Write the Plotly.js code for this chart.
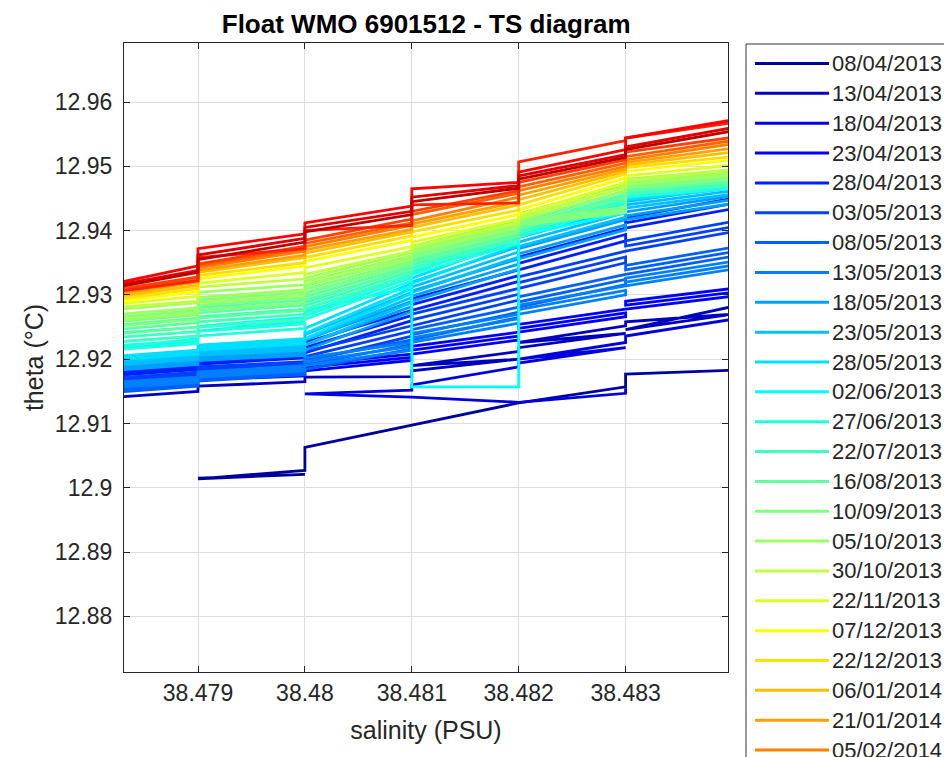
<!DOCTYPE html>
<html>
<head>
<meta charset="utf-8">
<script src="https://cdn.plot.ly/plotly-3.0.1.min.js"></script>
<style>html,body{margin:0;padding:0;background:#fff;}#chart{width:944px;height:757px;}</style>
</head>
<body>
<div id="chart"></div>
<script>
// ---- data ----
const profileDates = ["08/04/2013","13/04/2013","18/04/2013","23/04/2013","28/04/2013","03/05/2013","08/05/2013","13/05/2013","18/05/2013","23/05/2013","28/05/2013","02/06/2013","27/06/2013","22/07/2013","16/08/2013","10/09/2013","05/10/2013","30/10/2013","22/11/2013","07/12/2013","22/12/2013","06/01/2014","21/01/2014","05/02/2014","20/02/2014","07/03/2014","22/03/2014","06/04/2014","21/04/2014","06/05/2014"];

// salinity sequences (PSU) of the profiles, resolution 0.001
const salStd  = [38.478,38.479,38.479,38.480,38.480,38.481,38.481,38.482,38.482,38.483,38.483,38.484];
const salSerp = [38.478,38.479,38.479,38.478,38.478,38.479,
                 38.479,38.480,38.480,38.479,38.479,38.480,
                 38.480,38.481,38.481,38.480,38.480,38.481,
                 38.481,38.482,38.482,38.481,38.481,38.482,
                 38.482,38.483,38.483,38.482,38.482,38.483,
                 38.483,38.484,38.484,38.483,38.483,38.484];

const salinity = [
  [38.479,38.480,38.479,38.480,38.480,38.482,38.483,38.483,38.484],
  [38.478,38.479,38.479,38.480,38.480,38.481,38.481,38.482,38.481,38.482,38.482,38.483,38.482,38.483,38.483,38.484,38.483,38.484],
  [38.484,38.483,38.483,38.482,38.483,38.482,38.482,38.481,38.481,38.480,38.481,38.482,38.483,38.483],
  salSerp, salSerp, salSerp, salSerp, salSerp, salSerp, salSerp, salSerp,
  [38.478,38.479,38.478,38.479, 38.479,38.480,38.479,38.480, 38.480,38.481, 38.481,38.481, 38.482,38.482, 38.483,38.482,38.483, 38.483,38.484],
  salSerp, salSerp, salSerp, salSerp, salSerp,
  salStd, salStd, salStd, salStd, salStd, salStd, salStd, salStd, salStd, salStd, salStd, salStd, salStd
];

// potential temperature (deg C) along each profile
const theta = [
  [12.9015,12.9021,12.9014,12.9027,12.9063,12.9132,12.9157,12.9177,12.9183],
  [12.9138,12.9150,12.9158,12.9165,12.9172,12.9173,12.9182,12.9200,12.9190,12.9212,12.9218,12.9240,12.9226,12.9252,12.9258,12.9270,12.9246,12.9282],
  [12.9262,12.9236,12.9226,12.9200,12.9218,12.9194,12.9188,12.9160,12.9152,12.9146,12.9141,12.9133,12.9147,12.9155],
  [12.9150,12.9160,12.9164,12.9154,12.9158,12.9168, 12.9168,12.9174,12.9178,12.9172,12.9176,12.9182, 12.9182,12.9198,12.9203,12.9187,12.9192,12.9208, 12.9208,12.9230,12.9236,12.9214,12.9220,12.9242, 12.9242,12.9266,12.9272,12.9248,12.9254,12.9278, 12.9278,12.9298,12.9304,12.9284,12.9290,12.9310],
  [12.9172,12.9184,12.9188,12.9176,12.9180,12.9192, 12.9192,12.9202,12.9206,12.9196,12.9200,12.9210, 12.9210,12.9260,12.9268,12.9218,12.9226,12.9276, 12.9276,12.9321,12.9330,12.9285,12.9294,12.9339, 12.9339,12.9384,12.9394,12.9349,12.9359,12.9404, 12.9404,12.9434,12.9442,12.9412,12.9420,12.9450],
  [12.9160,12.9172,12.9176,12.9164,12.9168,12.9180, 12.9180,12.9188,12.9192,12.9184,12.9188,12.9196, 12.9196,12.9236,12.9244,12.9204,12.9212,12.9252, 12.9252,12.9292,12.9301,12.9261,12.9270,12.9310, 12.9310,12.9350,12.9359,12.9319,12.9328,12.9368, 12.9368,12.9398,12.9406,12.9376,12.9384,12.9414],
  [12.9146,12.9158,12.9162,12.9150,12.9154,12.9166, 12.9166,12.9176,12.9180,12.9170,12.9174,12.9184, 12.9184,12.9216,12.9223,12.9191,12.9198,12.9230, 12.9230,12.9265,12.9273,12.9238,12.9246,12.9281, 12.9281,12.9316,12.9324,12.9289,12.9297,12.9332, 12.9332,12.9360,12.9367,12.9339,12.9346,12.9374],
  [12.9154,12.9164,12.9168,12.9158,12.9162,12.9172, 12.9172,12.9182,12.9186,12.9176,12.9180,12.9190, 12.9190,12.9214,12.9220,12.9196,12.9202,12.9226, 12.9226,12.9256,12.9263,12.9233,12.9240,12.9270, 12.9270,12.9300,12.9307,12.9277,12.9284,12.9314, 12.9314,12.9340,12.9346,12.9320,12.9326,12.9352],
  [12.9180,12.9192,12.9195,12.9183,12.9186,12.9198, 12.9198,12.9206,12.9210,12.9202,12.9206,12.9214, 12.9214,12.9274,12.9282,12.9222,12.9230,12.9290, 12.9290,12.9340,12.9348,12.9298,12.9306,12.9356, 12.9356,12.9401,12.9409,12.9364,12.9372,12.9417, 12.9417,12.9442,12.9448,12.9423,12.9429,12.9454],
  [12.9188,12.9200,12.9203,12.9191,12.9194,12.9206, 12.9206,12.9214,12.9218,12.9210,12.9214,12.9222, 12.9222,12.9288,12.9296,12.9230,12.9238,12.9304, 12.9304,12.9359,12.9367,12.9312,12.9320,12.9375, 12.9375,12.9421,12.9428,12.9382,12.9389,12.9435, 12.9435,12.9457,12.9462,12.9440,12.9445,12.9467],
  [12.9196,12.9208,12.9211,12.9199,12.9202,12.9214, 12.9214,12.9224,12.9228,12.9218,12.9222,12.9232, 12.9232,12.9302,12.9310,12.9240,12.9248,12.9318, 12.9318,12.9378,12.9386,12.9326,12.9334,12.9394, 12.9394,12.9436,12.9442,12.9400,12.9406,12.9448, 12.9448,12.9466,12.9470,12.9452,12.9456,12.9474],
  [12.9218,12.9228,12.9212,12.9232, 12.9244,12.9259,12.9251,12.9265, 12.9275,12.9312, 12.9322,12.9157, 12.9157,12.9392, 12.9428,12.9408,12.9448, 12.9456,12.9478],
  [12.9212,12.9224,12.9230,12.9218,12.9224,12.9236, 12.9236,12.9248,12.9255,12.9243,12.9250,12.9262, 12.9262,12.9322,12.9327,12.9267,12.9272,12.9332, 12.9332,12.9380,12.9385,12.9337,12.9342,12.9390, 12.9390,12.9442,12.9447,12.9395,12.9400,12.9452, 12.9452,12.9466,12.9470,12.9456,12.9460,12.9474],
  [12.9224,12.9236,12.9243,12.9231,12.9238,12.9250, 12.9250,12.9262,12.9270,12.9258,12.9266,12.9278, 12.9278,12.9332,12.9337,12.9283,12.9288,12.9342, 12.9342,12.9386,12.9391,12.9347,12.9352,12.9396, 12.9396,12.9446,12.9451,12.9401,12.9406,12.9456, 12.9456,12.9470,12.9474,12.9460,12.9464,12.9478],
  [12.9236,12.9250,12.9257,12.9243,12.9250,12.9264, 12.9264,12.9276,12.9284,12.9272,12.9280,12.9292, 12.9292,12.9340,12.9345,12.9297,12.9302,12.9350, 12.9350,12.9392,12.9397,12.9355,12.9360,12.9402, 12.9402,12.9452,12.9457,12.9407,12.9412,12.9462, 12.9462,12.9476,12.9480,12.9466,12.9470,12.9484],
  [12.9248,12.9262,12.9269,12.9255,12.9262,12.9276, 12.9276,12.9288,12.9296,12.9284,12.9292,12.9304, 12.9304,12.9348,12.9353,12.9309,12.9314,12.9358, 12.9358,12.9398,12.9403,12.9363,12.9368,12.9408, 12.9408,12.9428,12.9432,12.9412,12.9416,12.9436, 12.9466,12.9480,12.9484,12.9470,12.9474,12.9488],
  [12.9258,12.9272,12.9280,12.9266,12.9274,12.9288, 12.9288,12.9300,12.9308,12.9296,12.9304,12.9316, 12.9316,12.9356,12.9361,12.9321,12.9326,12.9366, 12.9366,12.9406,12.9411,12.9371,12.9376,12.9416, 12.9416,12.9462,12.9467,12.9421,12.9426,12.9472, 12.9472,12.9486,12.9490,12.9476,12.9480,12.9494],
  [12.9278,12.9290,12.9312,12.9325,12.9332,12.9368,12.9375,12.9412,12.9420,12.9468,12.9478,12.9495],
  [12.9282,12.9298,12.9318,12.9335,12.9342,12.9375,12.9382,12.9418,12.9425,12.9475,12.9485,12.9502],
  [12.9285,12.9305,12.9325,12.9345,12.9352,12.9385,12.9390,12.9425,12.9432,12.9482,12.9492,12.9510],
  [12.9288,12.9310,12.9330,12.9350,12.9358,12.9392,12.9398,12.9432,12.9440,12.9488,12.9498,12.9515],
  [12.9292,12.9315,12.9335,12.9358,12.9365,12.9398,12.9405,12.9440,12.9448,12.9492,12.9502,12.9522],
  [12.9295,12.9320,12.9338,12.9362,12.9370,12.9402,12.9410,12.9445,12.9455,12.9496,12.9506,12.9528],
  [12.9298,12.9322,12.9342,12.9368,12.9375,12.9408,12.9415,12.9452,12.9462,12.9500,12.9510,12.9535],
  [12.9300,12.9325,12.9345,12.9372,12.9380,12.9412,12.9425,12.9458,12.9468,12.9505,12.9515,12.9540],
  [12.9302,12.9328,12.9348,12.9376,12.9385,12.9418,12.9430,12.9462,12.9475,12.9510,12.9522,12.9545],
  [12.9300,12.9322,12.9358,12.9372,12.9400,12.9408,12.9440,12.9443,12.9507,12.9540,12.9544,12.9568],
  [12.9310,12.9345,12.9372,12.9395,12.9412,12.9438,12.9465,12.9475,12.9491,12.9526,12.9544,12.9572],
  [12.9308,12.9338,12.9362,12.9388,12.9405,12.9430,12.9452,12.9470,12.9485,12.9518,12.9530,12.9560],
  [12.9305,12.9335,12.9355,12.9382,12.9398,12.9425,12.9445,12.9466,12.9480,12.9514,12.9526,12.9555]
];

const xTickVals = [38.479, 38.480, 38.481, 38.482, 38.483];
const xTickText = ["38.479", "38.48", "38.481", "38.482", "38.483"];
const yTickVals = [12.88, 12.89, 12.90, 12.91, 12.92, 12.93, 12.94, 12.95, 12.96];
const yTickText = ["12.88", "12.89", "12.9", "12.91", "12.92", "12.93", "12.94", "12.95", "12.96"];

// ---- styling helpers ----
function jet(m) {
  const n = Math.ceil(m / 4);
  const u = [];
  for (let i = 1; i <= n; i++) u.push(i / n);
  for (let i = 1; i < n; i++) u.push(1);
  for (let i = n; i >= 1; i--) u.push(i / n);
  const g0 = Math.ceil(n / 2) - (m % 4 === 1 ? 1 : 0);
  const J = Array.from({length: m}, () => [0, 0, 0]);
  for (let j = 0; j < u.length; j++) {
    const g = g0 + j + 1, r = g + n, b = g - n;
    if (g >= 1 && g <= m) J[g - 1][1] = u[j];
    if (r >= 1 && r <= m) J[r - 1][0] = u[j];
    if (b >= 1 && b <= m) J[b - 1][2] = u[j];
  }
  return J.map(c => 'rgb(' + c.map(v => Math.round(v * 255)).join(',') + ')');
}
const colors = jet(profileDates.length);
const FONT = 'Liberation Sans, Arial, Helvetica, sans-serif';
const TXT = '#262626';

const traces = profileDates.map((d, i) => ({
  type: 'scatter', mode: 'lines', name: d,
  x: salinity[i], y: theta[i],
  line: {color: colors[i], width: 2.8},
  hoverinfo: 'skip', showlegend: false
}));

// plot area in px
const PL = 124, PR = 728, PT = 43, PB = 672;
const px2x = p => (p - PL) / (PR - PL);
const px2y = p => (PB - p) / (PB - PT);

const shapes = [{
  type: 'rect', xref: 'paper', yref: 'paper',
  x0: px2x(746), x1: px2x(990), y0: px2y(44), y1: px2y(820),
  line: {color: '#333333', width: 1}, fillcolor: '#ffffff', layer: 'above'
}];
const annotations = [];
profileDates.forEach((d, i) => {
  const yc = 63.5 + 29.85 * i;
  if (yc > 765) return;
  shapes.push({
    type: 'line', xref: 'paper', yref: 'paper',
    x0: px2x(755), x1: px2x(829), y0: px2y(yc), y1: px2y(yc),
    line: {color: colors[i], width: 3}, layer: 'above'
  });
  annotations.push({
    xref: 'paper', yref: 'paper', x: px2x(831), y: px2y(yc),
    xanchor: 'left', yanchor: 'middle', showarrow: false,
    text: d, font: {family: FONT, size: 22, color: TXT}, borderpad: 0
  });
});

const layout = {
  width: 944, height: 757,
  margin: {l: PL, r: 944 - PR, t: PT, b: 757 - PB, pad: 0},
  paper_bgcolor: '#ffffff', plot_bgcolor: '#ffffff',
  showlegend: false,
  font: {family: FONT, color: TXT},
  title: {
    text: '<b>Float WMO 6901512 - TS diagram</b>',
    font: {family: FONT, size: 26, color: '#000000'},
    x: 0.4515, xanchor: 'center', xref: 'container',
    y: 1 - 24 / 757, yref: 'container', yanchor: 'middle'
  },
  xaxis: {
    range: [38.4783078, 38.4839579], autorange: false,
    tickmode: 'array', tickvals: xTickVals, ticktext: xTickText,
    ticks: 'inside', ticklen: 6, tickwidth: 1, tickcolor: TXT,
    showline: true, linecolor: TXT, linewidth: 1, mirror: 'ticks',
    showgrid: true, gridcolor: '#dedede', gridwidth: 1, zeroline: false,
    tickfont: {family: FONT, size: 23, color: TXT},
    title: {text: 'salinity (PSU)', font: {family: FONT, size: 25, color: TXT}, standoff: 16}
  },
  yaxis: {
    range: [12.871353, 12.969176], autorange: false,
    tickmode: 'array', tickvals: yTickVals, ticktext: yTickText,
    ticks: 'inside', ticklen: 6, tickwidth: 1, tickcolor: TXT,
    ticklabelstandoff: 6,
    showline: true, linecolor: TXT, linewidth: 1, mirror: 'ticks',
    showgrid: true, gridcolor: '#dedede', gridwidth: 1, zeroline: false,
    tickfont: {family: FONT, size: 23, color: TXT},
    title: {text: 'theta (°C)', font: {family: FONT, size: 25, color: TXT}, standoff: 4}
  },
  shapes: shapes,
  annotations: annotations
};

Plotly.newPlot('chart', traces, layout, {staticPlot: true, displayModeBar: false});
</script>
</body>
</html>
